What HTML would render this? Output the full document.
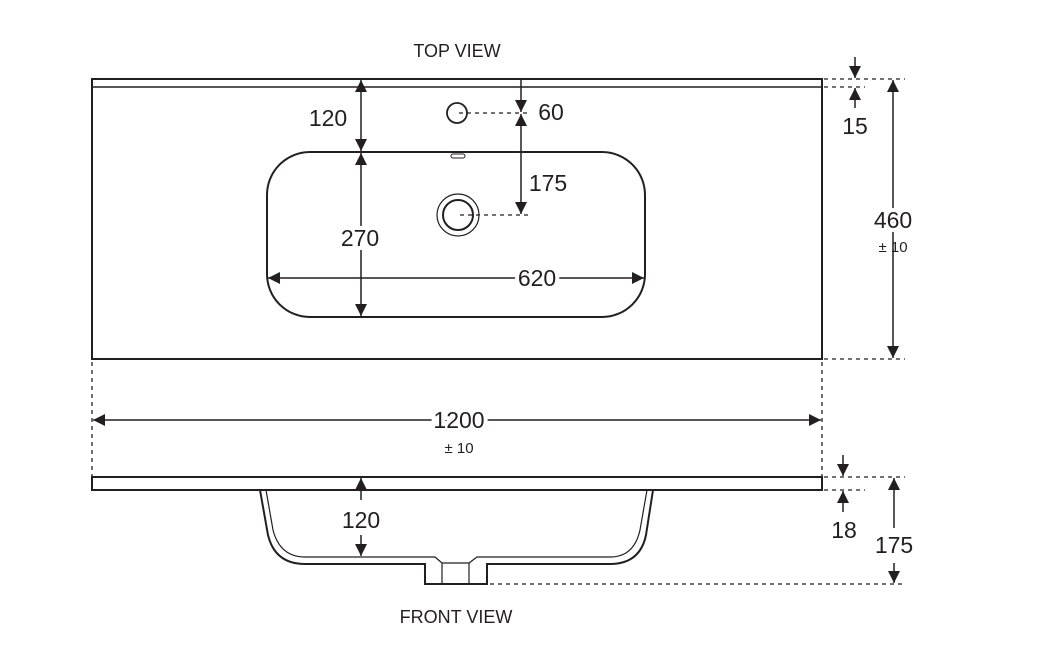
<!DOCTYPE html>
<html><head><meta charset="utf-8"><style>
html,body{margin:0;padding:0;background:#fff;width:1047px;height:646px;overflow:hidden}
svg{display:block}
text{font-family:"Liberation Sans",sans-serif;fill:#231f20}
</style></head><body>
<svg width="1047" height="646" viewBox="0 0 1047 646">
<defs>
<marker id="a" viewBox="0 0 10 10" refX="10" refY="5" markerWidth="12" markerHeight="12" markerUnits="userSpaceOnUse" orient="auto-start-reverse"><path d="M0,0 L10,5 L0,10 z" fill="#231f20"/></marker>
</defs>
<g stroke="#231f20" fill="none">
<!-- top view -->
<rect x="92" y="79" width="730" height="280" stroke-width="2"/>
<line x1="92" y1="87" x2="822" y2="87" stroke-width="1.5"/>
<rect x="267" y="152" width="378" height="165" rx="43" ry="43" stroke-width="2"/>
<circle cx="457" cy="113" r="10" stroke-width="1.8"/>
<circle cx="458" cy="215" r="21" stroke-width="1.2"/>
<circle cx="458" cy="215" r="15" stroke-width="2"/>
<rect x="451" y="154" width="14" height="4" rx="2" stroke-width="1"/>
<!-- dashed -->
<g stroke-dasharray="4,4" stroke-width="1.3">
<line x1="459" y1="113" x2="528" y2="113"/>
<line x1="460" y1="215" x2="530" y2="215"/>
<line x1="824" y1="79" x2="905" y2="79"/>
<line x1="824" y1="87" x2="865" y2="87"/>
<line x1="824" y1="359" x2="905" y2="359"/>
<line x1="92" y1="362" x2="92" y2="477"/>
<line x1="822" y1="362" x2="822" y2="477"/>
<line x1="824" y1="477" x2="905" y2="477"/>
<line x1="824" y1="490" x2="865" y2="490"/>
<line x1="490" y1="584" x2="905" y2="584"/>
</g>
<!-- dims -->
<g stroke-width="1.5">
<line x1="361" y1="80" x2="361" y2="151" marker-start="url(#a)" marker-end="url(#a)"/>
<line x1="361" y1="153" x2="361" y2="316" marker-start="url(#a)" marker-end="url(#a)"/>
<line x1="268" y1="278" x2="644" y2="278" marker-start="url(#a)" marker-end="url(#a)"/>
<line x1="521" y1="80" x2="521" y2="112" marker-end="url(#a)"/>
<line x1="521" y1="114" x2="521" y2="214" marker-start="url(#a)" marker-end="url(#a)"/>
<line x1="855" y1="57" x2="855" y2="78" marker-end="url(#a)"/>
<line x1="855" y1="108" x2="855" y2="88" marker-end="url(#a)"/>
<line x1="893" y1="80" x2="893" y2="358" marker-start="url(#a)" marker-end="url(#a)"/>
<line x1="93" y1="420" x2="821" y2="420" marker-start="url(#a)" marker-end="url(#a)"/>
<line x1="843" y1="455" x2="843" y2="476" marker-end="url(#a)"/>
<line x1="843" y1="512" x2="843" y2="491" marker-end="url(#a)"/>
<line x1="894" y1="528" x2="894" y2="478" marker-end="url(#a)"/>
<line x1="894" y1="563" x2="894" y2="583" marker-end="url(#a)"/>
<line x1="361" y1="500" x2="361" y2="478" marker-end="url(#a)"/>
<line x1="361" y1="535" x2="361" y2="556" marker-end="url(#a)"/>
</g>
<!-- front view -->
<rect x="92" y="477" width="730" height="13" stroke-width="2"/>
<path d="M260,490 L268,535 Q275,564 305,564 L425,564 L425,584 L487,584 L487,564 L610,564 Q640,564 646,535 L653,490" stroke-width="2"/>
<path d="M266,490 L273,530 Q280,557 305,557 L435,557 L442,563 L469,563 L477,557 L610,557 Q634,557 640,530 L647,490" stroke-width="1.2"/>
<line x1="442" y1="563" x2="442" y2="584" stroke-width="1.2"/>
<line x1="469" y1="563" x2="469" y2="584" stroke-width="1.2"/>
</g>
<g font-size="18">
<text x="457" y="57" text-anchor="middle">TOP VIEW</text>
<text x="456" y="623" text-anchor="middle">FRONT VIEW</text>
</g>
<g font-size="23">
<text x="328" y="126" text-anchor="middle">120</text>
<text x="551" y="120" text-anchor="middle">60</text>
<text x="548" y="191" text-anchor="middle">175</text>
<text x="360" y="246" text-anchor="middle" style="paint-order:stroke" stroke="#fff" stroke-width="8">270</text>
<text x="537" y="286" text-anchor="middle" style="paint-order:stroke" stroke="#fff" stroke-width="8">620</text>
<text x="855" y="134" text-anchor="middle">15</text>
<text x="893" y="228" text-anchor="middle" style="paint-order:stroke" stroke="#fff" stroke-width="8">460</text>
<text x="459" y="428" text-anchor="middle" style="paint-order:stroke" stroke="#fff" stroke-width="8">1200</text>
<text x="361" y="528" text-anchor="middle" style="paint-order:stroke" stroke="#fff" stroke-width="8">120</text>
<text x="844" y="538" text-anchor="middle">18</text>
<text x="894" y="553" text-anchor="middle">175</text>
</g>
<g font-size="15">
<text x="893" y="252" text-anchor="middle">± 10</text>
<text x="459" y="453" text-anchor="middle">± 10</text>
</g>
</svg>
</body></html>
